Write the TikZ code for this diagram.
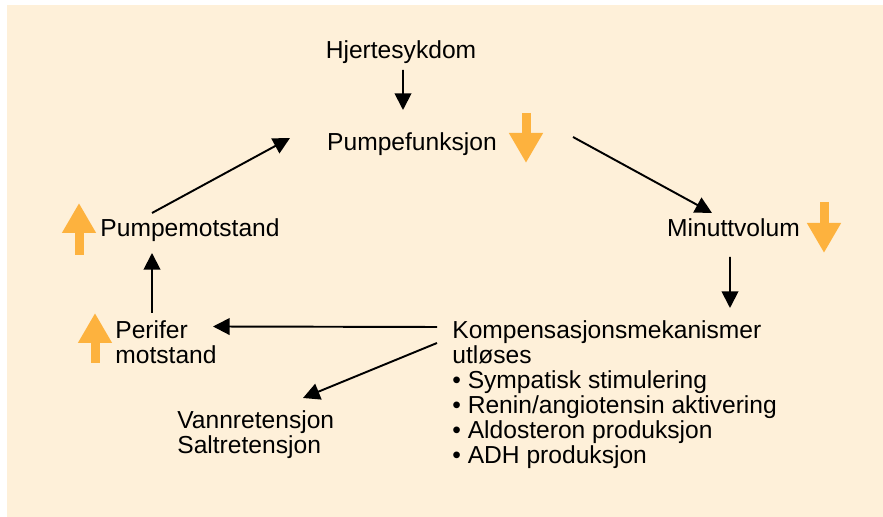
\documentclass[tikz,border=0pt]{standalone}
\usepackage{fontspec}
\setmainfont{Liberation Sans}
\usepackage{xcolor}
\usepackage{tikz}
\usetikzlibrary{arrows.meta}
\definecolor{PeachBack}{RGB}{254,240,217}
\definecolor{TrendOrange}{RGB}{253,178,62}

\begin{document}
\begin{tikzpicture}[
  x=1cm,y=1cm,
  term/.style={inner sep=0pt,font=\fontsize{14}{14.2}\selectfont,text height=0.72em,text depth=0pt},
  block/.style={inner sep=0pt,font=\fontsize{14}{14.2}\selectfont,align=left,anchor=north west},
  link/.style={line width=1.1pt,-{Triangle[length=9.5pt,width=9.5pt]}},
  trend/.style={TrendOrange,line width=0.18cm,-{Triangle[length=0.6cm,width=0.64cm]}}]
\path[use as bounding box,fill=white] (0,0) rectangle (17.66,10.34);
\fill[PeachBack] (0.14,0) rectangle (17.66,10.24);
\node[term] (hjerte) at (8.02,9.30) {Hjertesykdom};
\node[term] (pumpe) at (8.24,7.46) {Pumpefunksjon};
\node[term] (minutt) at (14.67,5.74) {Minuttvolum};
\node[term] (pumpemot) at (3.80,5.74) {Pumpemotstand};
\node[block] (perifer) at (2.30,3.94) {Perifer\\motstand};
\node[block] (komp) at (9.04,3.93)
  {Kompensasjonsmekanismer\\
   utløses\\
   • Sympatisk stimulering\\
   • Renin/angiotensin aktivering\\
   • Aldosteron produksjon\\
   • ADH produksjon};
\node[block] (vann) at (3.54,2.14) {Vannretensjon\\Saltretensjon};
% the loop
\draw[link] ([shift={(0.04,-0.36)}]hjerte.center) -- ([shift={(-0.18,0.68)}]pumpe.center);
\draw[link] ([shift={(3.22,0.14)}]pumpe.center) -- ([shift={(-0.43,0.34)}]minutt.center);
\draw[link] ([shift={(-0.07,-0.54)}]minutt.center) -- ([shift={(5.56,0.25)}]komp.north west);
\draw[link] ([shift={(-0.30,-0.13)}]komp.north west) -- ([shift={(1.96,-0.13)}]perifer.north west);
\draw[link] ([shift={(-0.30,-0.45)}]komp.north west) -- ([shift={(2.52,0.24)}]vann.north west);
\draw[link] ([shift={(0.74,0.14)}]perifer.north west) -- ([shift={(-0.76,-0.46)}]pumpemot.center);
\draw[link] ([shift={(-0.76,0.34)}]pumpemot.center) -- ([shift={(-2.44,0.12)}]pumpe.center);
% up and down markers
\foreach \x/\y/\d in {10.52/8.08/-1.00, 16.48/6.30/-1.02, 1.58/5.24/1.04, 1.90/3.08/1.00}
  \draw[trend] (\x,\y) -- ++(0,\d);
\end{tikzpicture}
\end{document}
